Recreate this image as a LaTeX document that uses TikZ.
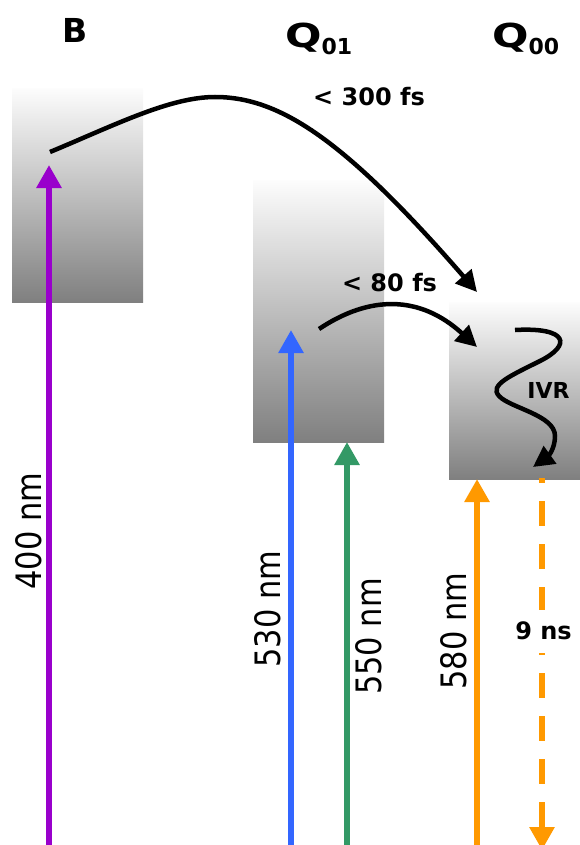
\documentclass[tikz,border=0pt]{standalone}
\usepackage{fontspec}
\setmainfont{DejaVu Sans}
\newfontfamily\condfont{DejaVu Sans}[FakeStretch=0.87]
\usetikzlibrary{arrows.meta}
\definecolor{cpurple}{HTML}{9900CC}
\definecolor{cblue}{HTML}{3366FF}
\definecolor{cgreen}{HTML}{339966}
\definecolor{corange}{HTML}{FF9900}
\begin{document}
\begin{tikzpicture}[x=1pt,y=-1pt,
  level/.style={draw=none, inner sep=0pt, anchor=north west, top color=black!1, bottom color=black!50},
  pump/.style={line width=6pt, -{Triangle[length=23pt,width=24pt]}},
  relax/.style={line width=4.5pt, -{Triangle[length=21pt,width=21pt]}},
  head/.style={font=\bfseries\fontsize{33}{36}\selectfont, inner sep=0pt},
  tlabel/.style={font=\bfseries\fontsize{24}{26}\selectfont, inner sep=0pt},
  wlabel/.style={font=\condfont\fontsize{35}{40}\selectfont, rotate=90, inner sep=0pt}]
\useasboundingbox (0,0) rectangle (579,845);

% energy levels
\node[level, minimum width=131pt, minimum height=214pt] (B) at (12,88) {};
\node[level, minimum width=131pt, minimum height=262pt] (Q1) at (253,180) {};
\node[level, minimum width=131pt, minimum height=177pt] (Q0) at (449,302) {};

% headers
\node[head, anchor=base] (hB) at (75,43) {B};
\node[head, anchor=base west] (hQ1) at (285,48) {\scalebox{1.3}[1]{Q}\raisebox{-7pt}{\fontsize{22}{24}\selectfont 01}};
\node[head, anchor=base west] (hQ0) at (492,48) {\scalebox{1.3}[1]{Q}\raisebox{-7pt}{\fontsize{22}{24}\selectfont 00}};

% pump arrows
\coordinate (p1) at (49,850);  \coordinate (p1e) at (49,165);
\coordinate (p2) at (291,850); \coordinate (p2e) at (291,330);
\coordinate (p3) at (347,850); \coordinate (p3e) at (347,442);
\coordinate (p4) at (477,850); \coordinate (p4e) at (477,479);
\draw[pump, cpurple] (p1) -- (p1e);
\draw[pump, cblue] (p2) -- (p2e);
\draw[pump, cgreen] (p3) -- (p3e);
\draw[pump, corange] (p4) -- (p4e);

% emission
\coordinate (e1) at (542,478); \coordinate (e1e) at (542,850);
\draw[pump, corange, dash pattern=on 25pt off 18pt, dash phase=20pt] (e1) -- (e1e);

% relaxation curves
\coordinate (c1s) at (50,152); \coordinate (c1e) at (477,292);
\draw[relax] (c1s) .. controls (115,125) and (170,97) .. (215,97)
  .. controls (280,97) and (345,140) .. (c1e);
\coordinate (c2s) at (319,329); \coordinate (c2e) at (477,347);
\draw[relax] (c2s) .. controls (370,295) and (420,295) .. (c2e);
\coordinate (c3s) at (515,330); \coordinate (c3e) at (533,467);
\draw[relax] (c3s) .. controls (568,327) and (572,345) .. (540,361)
  .. controls (510,376) and (489,385) .. (499,396)
  .. controls (510,408) and (555,415) .. (555,436)
  .. controls (555,450) and (547,457) .. (c3e);

% labels
\node[tlabel, anchor=base] (t300) at (369,106) {< 300 fs};
\node[tlabel, anchor=base] (t80) at (389.5,291) {< 80 fs};
\node[tlabel, anchor=base, font=\bfseries\fontsize{22}{24}\selectfont] (tivr) at (548.5,398) {IVR};
\node[tlabel, fill=white, minimum height=43pt, inner xsep=1pt] (t9) at (543.5,631) {9 ns};

\node[wlabel] (w400) at (29,531) {400 nm};
\node[wlabel] (w530) at (267.5,609) {530 nm};
\node[wlabel] (w550) at (369,636.5) {550 nm};
\node[wlabel] (w580) at (453.5,631) {580 nm};
\end{tikzpicture}
\end{document}
